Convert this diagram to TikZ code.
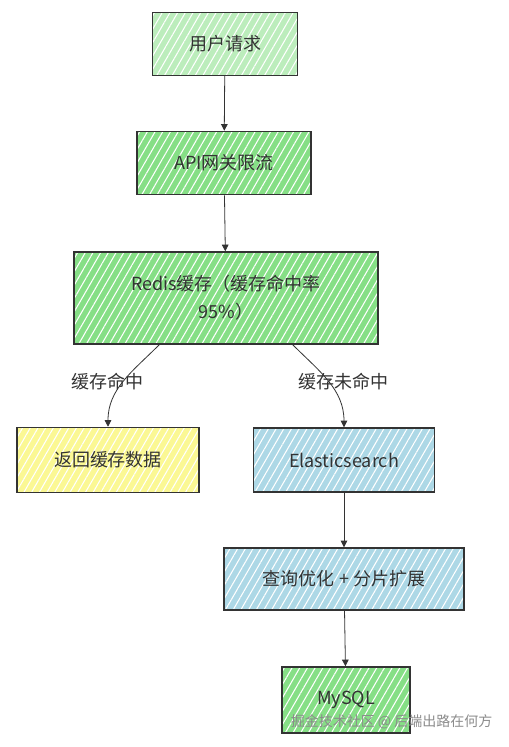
\documentclass[tikz,border=0pt]{standalone}
\usepackage{fontspec}
\setmainfont{Noto Sans CJK SC}
\usepackage{xcolor}
\usepackage{tikz}
\usetikzlibrary{arrows.meta,patterns.meta}
\definecolor{boxgreen}{HTML}{86DF86}
\definecolor{paleyellow}{HTML}{FBF894}
\definecolor{paleblue}{HTML}{ADD8E6}
\definecolor{inkgray}{HTML}{333333}

\begin{document}
\begin{tikzpicture}[x=0.75pt,y=-0.75pt,
  box/.style={draw=inkgray,line width=1.1pt,align=center,text=inkgray,
    font=\fontsize{13.5}{21}\selectfont,inner sep=2pt},
  hatch/.style={preaction={fill=#1},
    pattern={Lines[angle=60,distance=5pt,line width=0.8pt]},pattern color=white},
  edge/.style={draw=inkgray,line width=0.6pt,-{Triangle[length=5pt,width=5pt]}},
  tag/.style={text=inkgray,font=\fontsize{13.5}{16}\selectfont}]
  \useasboundingbox[fill=white] (0,0) rectangle (509,747);
  \node[box,hatch=boxgreen!55,minimum width=108.8pt,minimum height=47.3pt] (user) at (225,44) {用户请求};
  \node[box,hatch=boxgreen,minimum width=130.5pt,minimum height=47.3pt] (gateway) at (224,163) {API网关限流};
  \node[box,hatch=boxgreen,minimum width=228pt,minimum height=69pt] (redis) at (226,298) {Redis缓存（缓存命中率\\95\%）};
  \node[box,hatch=paleyellow,minimum width=136.5pt,minimum height=48.8pt] (hit) at (108,460) {返回缓存数据};
  \node[box,hatch=paleblue,minimum width=135.8pt,minimum height=48pt] (es) at (344,460) {Elasticsearch};
  \node[box,hatch=paleblue,minimum width=180pt,minimum height=46.5pt] (tune) at (344,579) {查询优化 + 分片扩展};
  \node[box,hatch=boxgreen,minimum width=96pt,minimum height=49.5pt] (mysql) at (346,700) {MySQL};
  \draw[edge] (user) -- (gateway);
  \draw[edge] (gateway) -- (redis);
  \draw[edge] (redis.-145) to[out=-135,in=90] node[tag,pos=0.5,xshift=-12pt] {缓存命中} (hit.north);
  \draw[edge] (redis.-35) to[out=-45,in=90] node[tag,pos=0.5,xshift=11pt] {缓存未命中} (es.north);
  \draw[edge] (es) -- (tune);
  \draw[edge] (tune) -- (mysql);
  \node[anchor=east,text=black!45,font=\fontsize{10.5}{13}\selectfont] (mark) at (497,722) {掘金技术社区 @ 后端出路在何方};
\end{tikzpicture}
\end{document}
